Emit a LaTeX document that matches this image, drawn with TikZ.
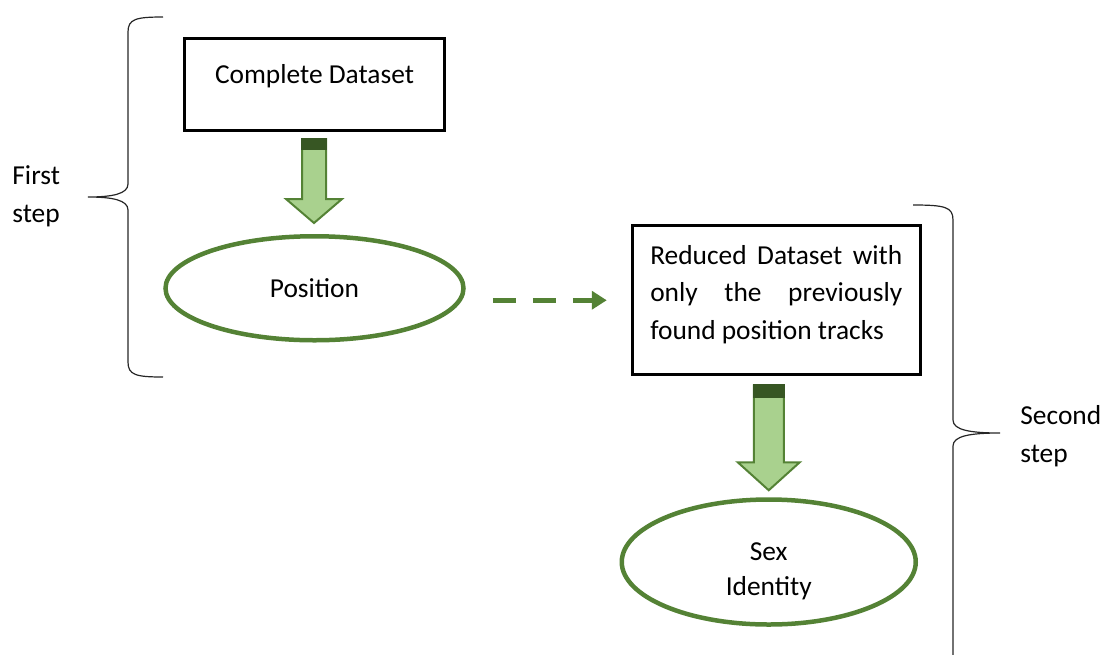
\documentclass[tikz,border=0pt]{standalone}
\usepackage{fontspec}
\setmainfont{Carlito}
\usepackage{xcolor}
\usepackage{tikz}
\usetikzlibrary{positioning}
\usetikzlibrary{shapes.geometric}
\usetikzlibrary{arrows.meta}
\usetikzlibrary{calc}

\definecolor{stepgreen}{HTML}{548235}
\definecolor{arrowfill}{HTML}{A9D18E}
\definecolor{arrowtop}{HTML}{375623}

% fat down arrow: top point, shaft half width, band, head base, head half width, tip
\newcommand{\fatarrow}[6]{%
  \filldraw[arrowbody] ($(#1)+(-#2,0)$) -- ($(#1)+(-#2,#4)$) -- ($(#1)+(-#5,#4)$)
    -- ($(#1)+(0,#6)$) -- ($(#1)+(#5,#4)$) -- ($(#1)+(#2,#4)$) -- ($(#1)+(#2,0)$) -- cycle;
  \filldraw[arrowband] ($(#1)+(-#2,0)$) rectangle ($(#1)+(#2,#3)$);
}
% text moved up or down inside its node, node size kept
\newcommand{\lift}[2]{\raisebox{#1}[\height][\depth]{#2}}

\begin{document}
\begin{tikzpicture}[x=0.5pt, y=-0.5pt, font=\fontsize{13.7}{19}\selectfont]

    % Styles
    \tikzstyle{databox} = [draw=black, line width=1.5pt, fill=white, inner sep=0pt]
    \tikzstyle{result} = [ellipse, draw=stepgreen, line width=2.25pt, inner sep=0pt, align=center]
    \tikzstyle{arrowbody} = [draw=stepgreen, line width=1pt, fill=arrowfill, line join=miter]
    \tikzstyle{arrowband} = [draw=arrowtop, line width=1pt, fill=arrowtop]
    \tikzstyle{dashflow} = [draw=stepgreen, line width=2.5pt, dash pattern=on 11.5pt off 8.5pt,
        -{Triangle[length=7.5pt, width=9pt]}]
    \tikzstyle{bracket} = [draw=black!85, line width=0.6pt]
    \tikzstyle{steplabel} = [align=left, inner sep=0pt, anchor=west]

    \useasboundingbox (0,0) rectangle (1103,654);

    % Define nodes
    \node[databox, minimum width=130pt, minimum height=46pt] (cd) at (314.5,84.5)
        {\lift{4pt}{Complete Dataset}};
    \node[result, minimum width=149pt, minimum height=52pt, below=51pt of cd] (pos) {Position};
    \node[databox, minimum width=144pt, minimum height=74.5pt, right=82.5pt of pos, yshift=-6pt] (box2)
        {\lift{3pt}{\parbox{126pt}{\fontsize{13.7}{18.75}\selectfont
        Reduced Dataset with\linebreak only the previously\linebreak found position tracks}}};
    \node[result, minimum width=147pt, minimum height=62.5pt, below=60.5pt of box2, xshift=-3.75pt] (sex)
        {\lift{-4pt}{\begin{tabular}{@{}c@{}}Sex\\[-1.5pt] Identity\end{tabular}}};

    % Connect nodes
    \coordinate (top1) at ($(cd.south)+(-0.5,7)$);
    \fatarrow{top1}{12}{10}{60}{28}{84}
    \coordinate (top2) at ($(box2.south)+(-7.5,9)$);
    \fatarrow{top2}{15}{12}{77}{31}{105}
    \draw[dashflow] ($(pos.east |- box2.west)+(27,0)$) -- ($(box2.west)+(-24,0)$);

    % Braces
    \draw[bracket] (163,17) .. controls (136,17) and (128,19) .. (128,32) -- (128,184)
        .. controls (128,194) and (112,197) .. (88,197)
        .. controls (112,197) and (128,200) .. (128,210) -- (128,362)
        .. controls (128,375) and (136,377) .. (163,377);
    \draw[bracket] (913,205) .. controls (945,205) and (953,207) .. (953,220) -- (953,420)
        .. controls (953,430) and (970,433) .. (1000,433)
        .. controls (970,433) and (953,436) .. (953,446) -- (953,660);

    \node[steplabel] (first) at (12,196) {First\\step};
    \node[steplabel] (second) at (1020,436) {Second\\step};

\end{tikzpicture}
\end{document}
